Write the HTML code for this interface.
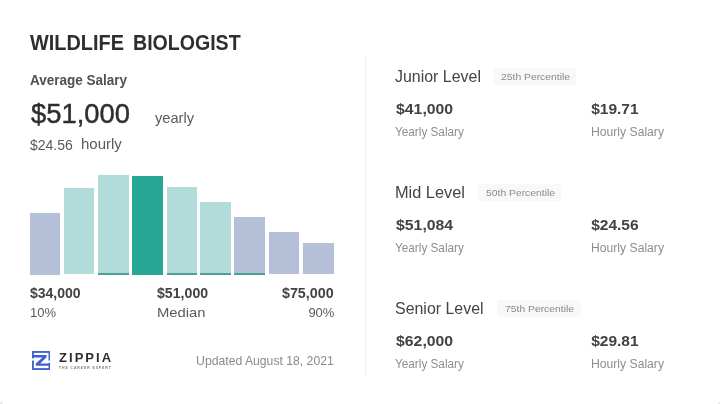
<!DOCTYPE html>
<html>
<head>
<meta charset="utf-8">
<title>Wildlife Biologist Salary</title>
<style>
html,body{margin:0;padding:0;background:#fff;}
body{width:720px;height:404px;position:relative;overflow:hidden;filter:blur(0.5px);font-family:"Liberation Sans",sans-serif;color:#333;}
.t{position:absolute;white-space:nowrap;line-height:1;transform-origin:0 0;}
.r{transform-origin:100% 0;}
.bar{position:absolute;}
.lt{background:#b2dcd9;}
.gb{background:#b6bfd8;}
.dk{background:#28a796;}
.ul{position:absolute;height:2px;background:#4ba196;}
.title{font-weight:bold;font-size:21.5px;color:#2e2e2e;}
.sub{font-weight:bold;font-size:14px;color:#505050;}
.big{font-size:28px;color:#2e2e2e;-webkit-text-stroke:0.45px #2e2e2e;}
.g15{font-size:15px;color:#5a5a5a;}
.g14{font-size:14px;color:#5a5a5a;}
.b14{font-size:14px;font-weight:bold;color:#424242;}
.r13{font-size:13px;color:#5a5a5a;}
.lvl{font-size:16.5px;color:#444;}
.badge{position:absolute;background:#f7f8fa;border-radius:3px;}
.bt{font-size:9.7px;color:#8a8a8a;}
.val{font-size:15.5px;font-weight:bold;color:#424242;}
.cap{font-size:12.5px;color:#8e8e8e;}
.upd{font-size:13px;color:#8a8a8a;}
.divider{position:absolute;left:365px;top:55px;width:1px;height:321px;background:#efefef;}
</style>
</head>
<body>
<div class="t title" id="t1" style="left:30.4px;top:32.5px;transform:scaleX(0.925);">WILDLIFE</div>
<div class="t title" id="t2" style="left:133.2px;top:32.5px;transform:scaleX(0.91);">BIOLOGIST</div>
<div class="t sub" id="avg" style="left:30px;top:72.5px;transform:scaleX(0.965);">Average Salary</div>
<div class="t big" id="big" style="left:30.5px;top:100px;transform:scaleX(0.978);">$51,000</div>
<div class="t g15" id="yearly" style="left:155.3px;top:110px;transform:scaleX(0.975);">yearly</div>
<div class="t g14" id="hr" style="left:30px;top:137.8px;">$24.56</div>
<div class="t g15" id="hourly" style="left:81px;top:135.5px;">hourly</div>

<div class="bar gb" style="left:29.7px;top:213.0px;width:30.5px;height:61.5px;"></div>
<div class="bar lt" style="left:63.8px;top:188.3px;width:30.5px;height:86.2px;"></div>
<div class="bar lt" style="left:97.5px;top:175.0px;width:31.2px;height:99.5px;"></div>
<div class="bar dk" style="left:132px;top:176.0px;width:30.6px;height:98.5px;"></div>
<div class="bar lt" style="left:166.8px;top:186.7px;width:29.8px;height:87.8px;"></div>
<div class="bar lt" style="left:200.4px;top:201.9px;width:30.5px;height:72.6px;"></div>
<div class="bar gb" style="left:234.0px;top:217.3px;width:31.3px;height:57.2px;"></div>
<div class="bar gb" style="left:268.9px;top:232.1px;width:30.2px;height:42.4px;"></div>
<div class="bar gb" style="left:303px;top:243.1px;width:30.7px;height:31.4px;"></div>
<div class="ul" style="left:97.5px;top:272.5px;width:31.2px;"></div>
<div class="ul" style="left:166.8px;top:272.5px;width:29.8px;"></div>
<div class="ul" style="left:200.4px;top:272.5px;width:30.5px;"></div>
<div class="ul" style="left:234.0px;top:272.5px;width:31.3px;"></div>

<div class="t b14" id="l1" style="left:30px;top:285.7px;">$34,000</div>
<div class="t b14" id="l2" style="left:156.7px;top:285.7px;transform:scaleX(1.01);">$51,000</div>
<div class="t b14 r" id="l3" style="right:386px;top:285.7px;transform:scaleX(1.02);">$75,000</div>
<div class="t r13" id="m1" style="left:30px;top:306px;">10%</div>
<div class="t r13" id="m2" style="left:156.8px;top:306px;transform:scaleX(1.14);">Median</div>
<div class="t r13 r" id="m3" style="right:385.6px;top:306px;">90%</div>

<svg id="logo" style="position:absolute;left:31.8px;top:351px;" width="18.4" height="19" viewBox="0 0 18.4 19">
<g fill="#4165cc">
<rect x="0" y="0" width="18.4" height="1.9"/>
<rect x="0" y="17.1" width="18.4" height="1.9"/>
<rect x="0" y="0" width="1.9" height="7.3"/>
<rect x="0" y="9.5" width="1.9" height="9.5"/>
<rect x="16.5" y="0" width="1.9" height="9.5"/>
<rect x="16.5" y="11.7" width="1.9" height="7.3"/>
<path d="M0 4 H14.6 V6.2 L8.2 12.4 H18.4 V14.8 H3.8 V12.6 L10.4 6.4 H0 Z" fill="#3f5fd6"/>
</g>
</svg>
<div class="t" id="zip" style="left:59px;top:351.1px;font-weight:bold;font-size:13px;letter-spacing:2.05px;color:#2e2e2e;">ZIPPIA</div>
<div class="t" id="zips" style="left:59px;top:366.5px;font-weight:bold;font-size:3.4px;letter-spacing:0.95px;color:#777;">THE CAREER EXPERT</div>
<div class="t upd r" id="upd" style="right:386px;top:354px;transform:scaleX(0.938);">Updated August 18, 2021</div>

<div class="divider"></div>
<div style="position:absolute;left:-2.5px;top:401.5px;width:5px;height:5px;border-radius:50%;background:#e6e6e6;"></div>
<div style="position:absolute;left:717.5px;top:401.5px;width:5px;height:5px;border-radius:50%;background:#e6e6e6;"></div>

<div class="t lvl" id="jl" style="left:395px;top:67.5px;transform:scaleX(0.966);">Junior Level</div>
<div class="badge" style="left:493.6px;top:67.6px;width:82px;height:17.2px;"></div>
<div class="t bt" id="jb" style="left:500.9px;top:72px;transform:scaleX(1.068);">25th Percentile</div>
<div class="t val" id="jv1" style="left:395.8px;top:101.3px;transform:scaleX(1.02);">$41,000</div>
<div class="t val" id="jv2" style="left:591.2px;top:101.3px;">$19.71</div>
<div class="t cap" id="jc1" style="left:395.4px;top:125.5px;transform:scaleX(0.941);">Yearly Salary</div>
<div class="t cap" id="jc2" style="left:590.8px;top:125.5px;transform:scaleX(0.973);">Hourly Salary</div>

<div class="t lvl" id="ml" style="left:395px;top:183.5px;transform:scaleX(0.99);">Mid Level</div>
<div class="badge" style="left:478px;top:183.8px;width:83.3px;height:17.2px;"></div>
<div class="t bt" id="mb" style="left:485.7px;top:188.2px;transform:scaleX(1.068);">50th Percentile</div>
<div class="t val" id="mv1" style="left:395.8px;top:217.3px;transform:scaleX(1.02);">$51,084</div>
<div class="t val" id="mv2" style="left:591.2px;top:217.3px;">$24.56</div>
<div class="t cap" id="mc1" style="left:395.4px;top:241.5px;transform:scaleX(0.941);">Yearly Salary</div>
<div class="t cap" id="mc2" style="left:590.8px;top:241.5px;transform:scaleX(0.973);">Hourly Salary</div>

<div class="t lvl" id="sl" style="left:395px;top:299.5px;transform:scaleX(0.966);">Senior Level</div>
<div class="badge" style="left:496.8px;top:299.6px;width:83.8px;height:17.2px;"></div>
<div class="t bt" id="sb" style="left:505px;top:304.2px;transform:scaleX(1.068);">75th Percentile</div>
<div class="t val" id="sv1" style="left:395.8px;top:333.3px;transform:scaleX(1.02);">$62,000</div>
<div class="t val" id="sv2" style="left:591.2px;top:333.3px;">$29.81</div>
<div class="t cap" id="sc1" style="left:395.4px;top:357.5px;transform:scaleX(0.941);">Yearly Salary</div>
<div class="t cap" id="sc2" style="left:590.8px;top:357.5px;transform:scaleX(0.973);">Hourly Salary</div>
</body>
</html>
